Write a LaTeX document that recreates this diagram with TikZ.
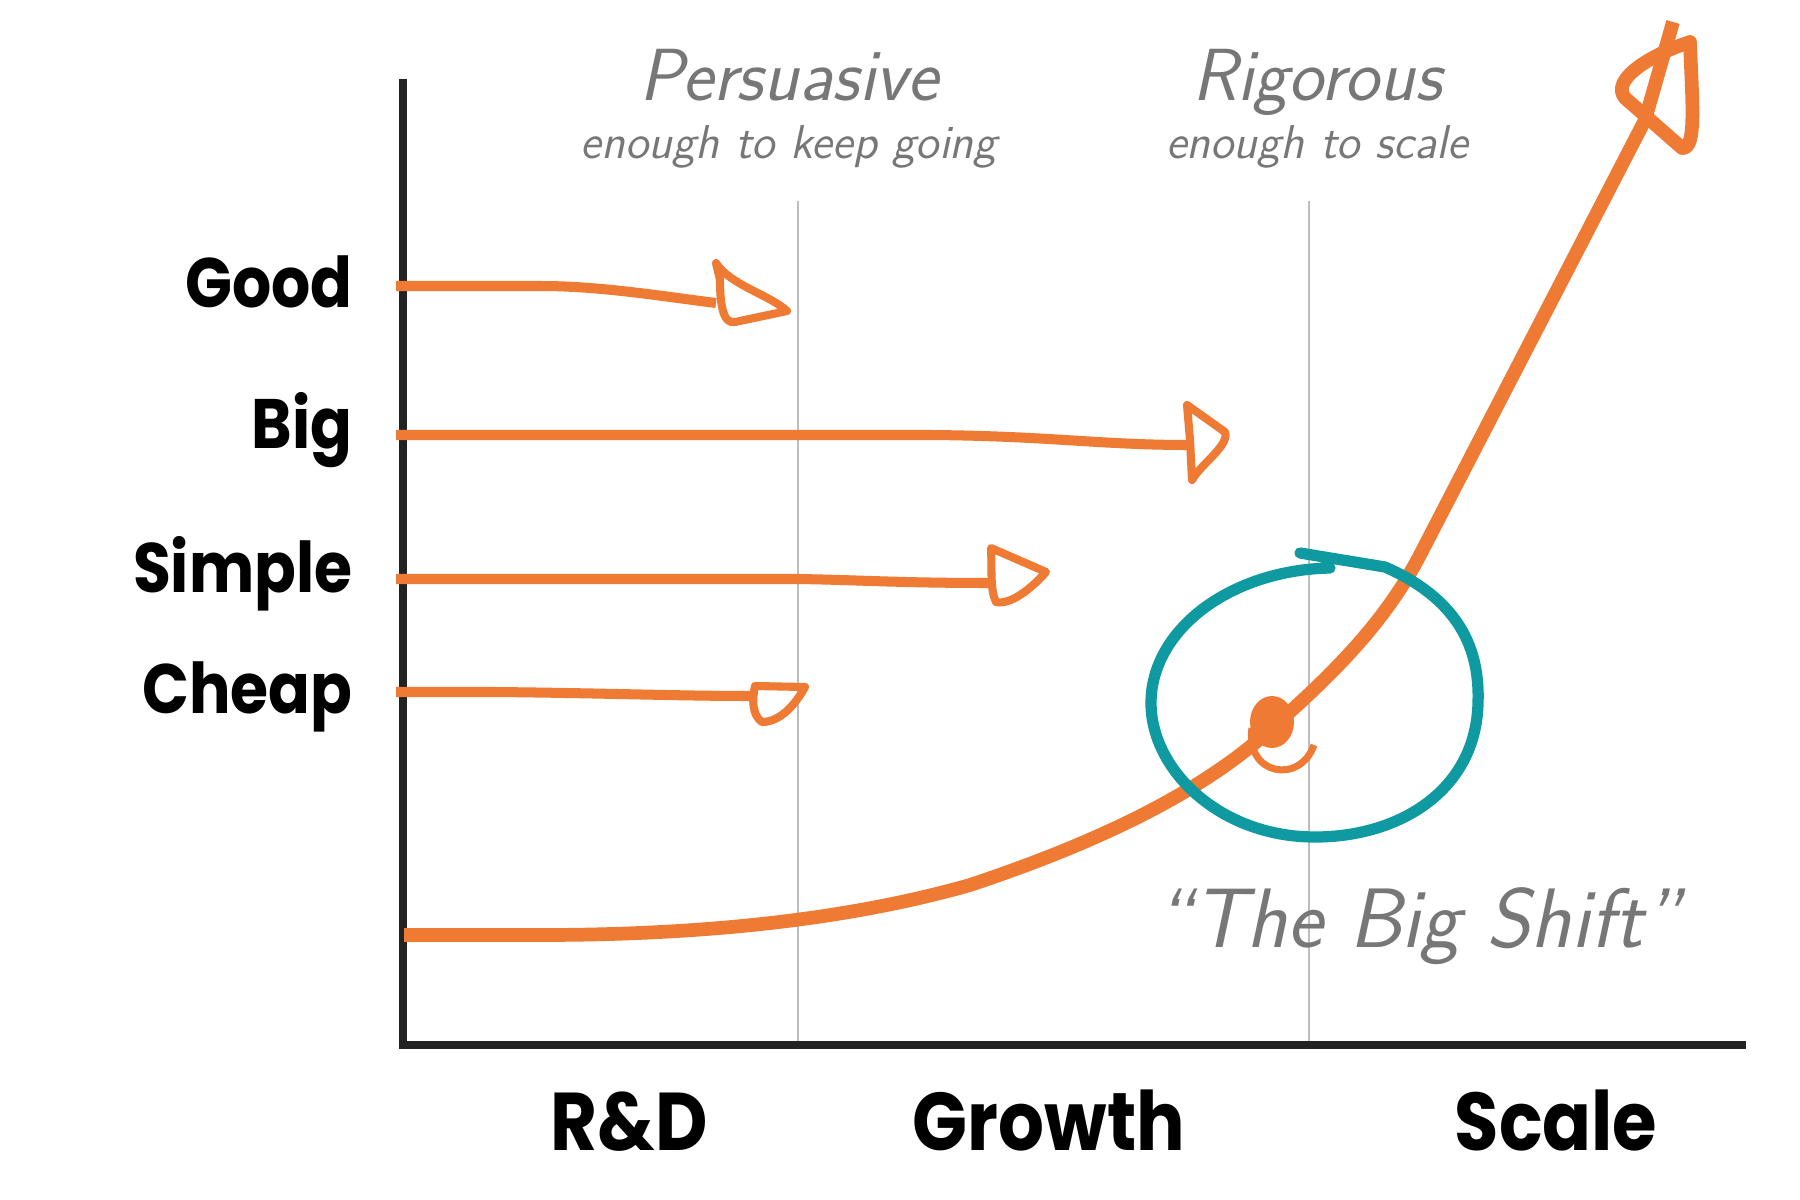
\documentclass[tikz,border=0pt]{standalone}
\usepackage{fontspec}
\newfontfamily\labfont{Poppins}[FakeStretch=0.88]
\usetikzlibrary{calc}
\definecolor{orng}{HTML}{EE7A33}
\definecolor{teal2}{HTML}{0E9AA0}
\definecolor{axisc}{HTML}{222222}
\definecolor{gridc}{HTML}{BDBDBD}
\definecolor{handc}{HTML}{777777}
\tikzset{
  lab/.style={font=\labfont\bfseries\fontsize{19.9pt}{20pt}\selectfont, inner sep=0pt, text=black},
  phase/.style={font=\labfont\bfseries\fontsize{23.3pt}{24pt}\selectfont, inner sep=0pt, text=black},
  handbig/.style={font=\sffamily\itshape\fontsize{21pt}{22pt}\selectfont, inner sep=0pt, text=handc},
  handsmall/.style={font=\sffamily\itshape\fontsize{13.5pt}{14pt}\selectfont, inner sep=0pt, text=handc},
  handshift/.style={font=\sffamily\itshape\fontsize{24pt}{25pt}\selectfont, inner sep=0pt, text=handc},
  axisline/.style={draw=axisc, line width=2pt},
  gridline/.style={draw=gridc, line width=0.6pt},
  arrowline/.style={draw=orng, line width=2.85pt, line cap=butt},
  headline/.style={draw=orng, line width=2.3pt, line join=round, line cap=round},
  bigcurve/.style={draw=orng, line width=3.9pt, line cap=butt, line join=round},
  circ/.style={draw=teal2, line width=3.2pt, line cap=round},
}
\begin{document}
\begin{tikzpicture}[x=0.01cm,y=-0.01cm]
\useasboundingbox (0,0) rectangle (1800,1200);
% coordinates
\coordinate (ytop) at (403,79);
\coordinate (origin) at (403,1045);
\coordinate (xend) at (1746,1045);
\coordinate (g1top) at (798,201);
\coordinate (g1bot) at (798,1045);
\coordinate (g2top) at (1309,201);
\coordinate (g2bot) at (1309,1045);
% grid lines
\draw[gridline] (g1top) -- (g1bot);
\draw[gridline] (g2top) -- (g2bot);
% axes
\draw[axisline] (ytop) -- (origin) -- (xend);
% left labels
\node[lab, anchor=base east] (good) at (353,307) {Good};
\node[lab, anchor=base east] (big) at (353,448) {Big};
\node[lab, anchor=base east] (simple) at (353,592) {Simple};
\node[lab, anchor=base east] (cheap) at (353,713) {Cheap};
% phase labels
\node[phase, anchor=base] (rd) at (629,1150) {R\&D};
\node[phase, anchor=base] (growth) at (1049,1150) {Growth};
\node[phase, anchor=base] (scale) at (1556,1150) {Scale};
% hand labels
\node[handbig, anchor=base] (pers) at (789,100) {Persuasive};
\node[handsmall, anchor=base] (pers2) at (789,158) {enough to keep going};
\node[handbig, anchor=base] (rig) at (1317,100) {Rigorous};
\node[handsmall, anchor=base] (rig2) at (1317,158) {enough to scale};
\node[handshift, anchor=base] (shift) at (1418,947) {``The Big Shift''};
% Good arrow
\coordinate (ga) at (396,286);
\coordinate (gb) at (541,286);
\coordinate (gc) at (716,303);
\draw[arrowline] (ga) -- (gb) .. controls (600,286) and (660,296) .. (gc);
\draw[headline] (716,263) .. controls (730,285) and (770,295) .. (787,311) -- (735,322) .. controls (722,325) and (720,300) .. (720,280) -- cycle;
% Big arrow
\coordinate (ba) at (396,435);
\coordinate (bb) at (931,435);
\coordinate (bc) at (1189,445);
\draw[arrowline] (ba) -- (bb) .. controls (1050,436) and (1100,445) .. (bc);
\draw[headline] (1187,405) -- (1225,432) .. controls (1230,445) and (1200,465) .. (1192,480) -- (1190,440) -- cycle;
% Simple arrow
\coordinate (sa) at (396,579);
\coordinate (sb) at (799,579);
\coordinate (sc) at (990,583);
\draw[arrowline] (sa) -- (sb) .. controls (860,580) and (900,583) .. (sc);
\draw[headline] (991,548) -- (1046,572) .. controls (1030,590) and (1010,605) .. (996,602) .. controls (990,590) and (992,570) .. (991,548) -- cycle;
% Cheap arrow
\coordinate (ca) at (396,692);
\coordinate (cb) at (495,692);
\coordinate (cc) at (750,696);
\draw[arrowline] (ca) -- (cb) .. controls (600,693) and (680,696) .. (cc);
\draw[headline] (755,686) -- (805,687) .. controls (795,705) and (780,722) .. (762,722) .. controls (752,715) and (752,700) .. (755,686) -- cycle;
% main curve
\coordinate (m0) at (404,935);
\coordinate (m1) at (540,935);
\coordinate (m2) at (970,885);
\coordinate (knot) at (1273,727);
\coordinate (m3) at (1420,555);
\coordinate (m4) at (1645,120);
\coordinate (mtop) at (1673,22);
\draw[bigcurve] (m0) -- (m1) .. controls (690,935) and (840,922) .. (m2)
  .. controls (1075,850) and (1195,800) .. (knot)
  .. controls (1335,672) and (1385,622) .. (m3) -- (m4) -- (mtop);
\draw[bigcurve, line cap=round] (1690,42) .. controls (1650,55) and (1610,80) .. (1625,98) -- (1682,148) .. controls (1697,150) and (1692,100) .. (1690,42);
% knot scribble
\fill[orng] (1272,722) ellipse (22 and 26);
\draw[orng, line width=2pt] (1252,728) .. controls (1245,775) and (1300,785) .. (1314,745);
% teal circle
\draw[circ] (1300,553) -- (1385,567) .. controls (1460,600) and (1480,650) .. (1478,703)
  .. controls (1476,790) and (1400,837) .. (1315,837)
  .. controls (1220,837) and (1151,770) .. (1151,703)
  .. controls (1151,630) and (1230,570) .. (1330,568);
\end{tikzpicture}
\end{document}
